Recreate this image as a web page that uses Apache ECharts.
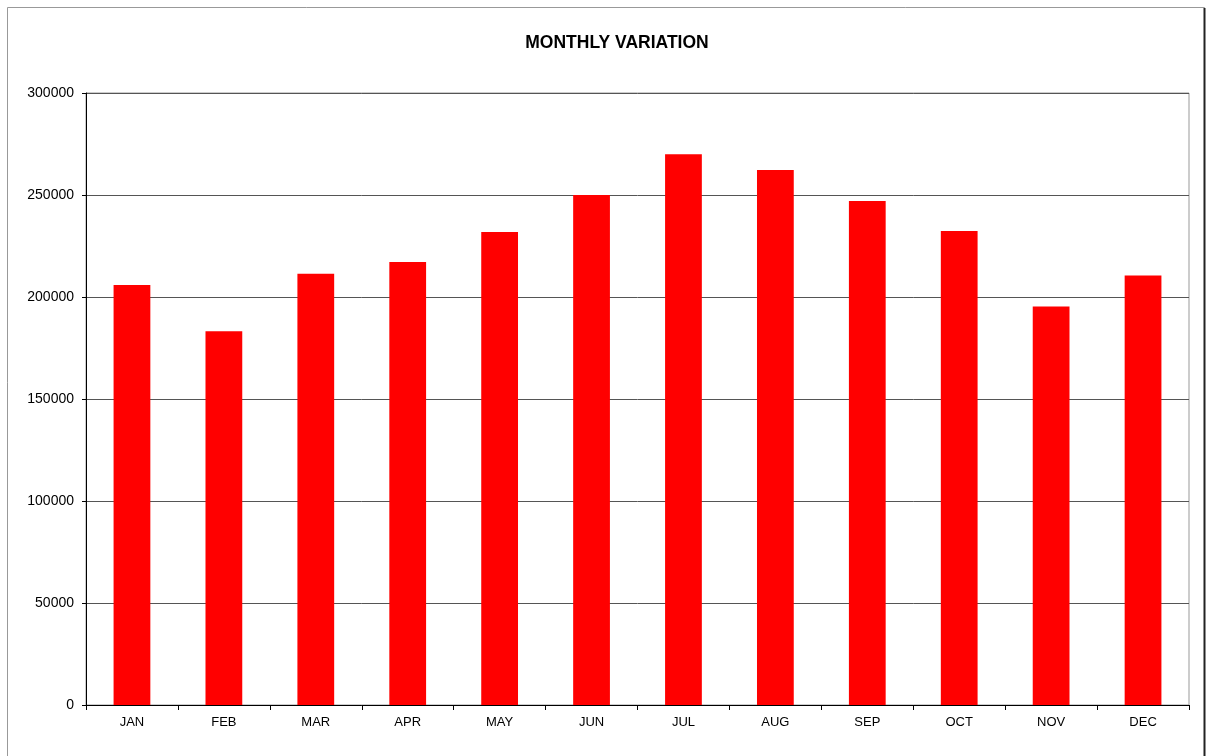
<!DOCTYPE html>
<html>
<head>
<meta charset="utf-8">
<title>Monthly Variation</title>
<script src="https://cdn.jsdelivr.net/npm/echarts@6/dist/echarts.min.js"></script>
<style>
  html, body { margin: 0; padding: 0; background: #fff; }
  #chart { width: 1209px; height: 756px; }
</style>
</head>
<body>
<div id="chart"></div>
<script>
const months = ["JAN", "FEB", "MAR", "APR", "MAY", "JUN", "JUL", "AUG", "SEP", "OCT", "NOV", "DEC"];
const values = [205900, 183200, 211400, 217200, 231900, 250000, 270000, 262300, 247100, 232400, 195300, 210500];
const yMax = 300000;
const yStep = 50000;

const chart = echarts.init(document.getElementById("chart"));
chart.setOption({
  animation: false,
  textStyle: { fontFamily: "Liberation Sans, Arial, sans-serif" },
  title: {
    text: "MONTHLY VARIATION",
    left: 612,
    textAlign: "center",
    top: 29,
    textStyle: { fontSize: 17.5, fontWeight: "bold", color: "#000" },
  },
  graphic: [
    { type: "rect", shape: { x: 7.5, y: 7.5, width: 1197, height: 760 }, style: { fill: null, stroke: "#999", lineWidth: 1 } },
    { type: "line", shape: { x1: 1204.5, y1: 8, x2: 1204.5, y2: 756 }, style: { stroke: "#222", lineWidth: 2 } },
  ],
  grid: { left: 86, right: 20, top: 93, bottom: 51, show: true, borderColor: "#999", borderWidth: 1 },
  xAxis: {
    type: "category",
    data: months,
    axisLine: { lineStyle: { color: "#000", width: 1 } },
    axisTick: { show: true, length: 5, lineStyle: { color: "#000" } },
    axisLabel: { color: "#000", fontSize: 13, margin: 11 },
  },
  yAxis: {
    type: "value",
    min: 0,
    max: yMax,
    interval: yStep,
    axisLine: { show: true, lineStyle: { color: "#000", width: 1 } },
    axisTick: { show: true, length: 4, lineStyle: { color: "#000" } },
    axisLabel: { color: "#000", fontSize: 14, margin: 12, formatter: v => String(v) },
    splitLine: { lineStyle: { color: "#555", width: 1 } },
  },
  series: [{
    type: "bar",
    data: values,
    barWidth: "40%",
    itemStyle: { color: "#ff0000" },
  }],
});
</script>
</body>
</html>
